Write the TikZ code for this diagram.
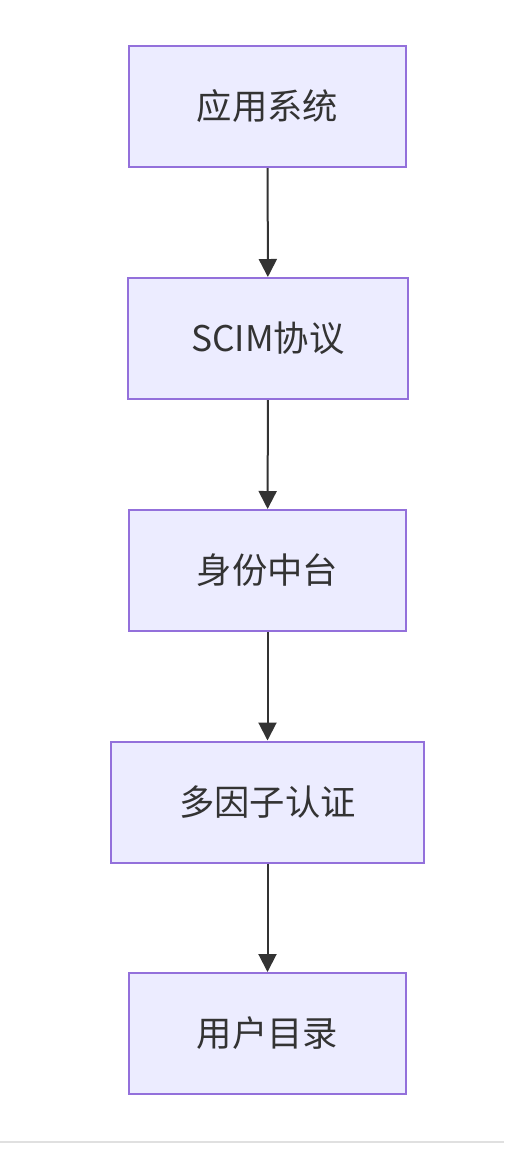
\documentclass[tikz,border=0pt]{standalone}
\usepackage{fontspec}
\setmainfont{Noto Sans CJK SC}
\usetikzlibrary{arrows.meta,positioning}
\definecolor{boxfill}{HTML}{ECECFF}
\definecolor{boxline}{HTML}{9370DB}
\definecolor{ink}{HTML}{333333}
\tikzset{>={Triangle[length=13.5pt,width=13.5pt]}}

\begin{document}
\begin{tikzpicture}[x=0.75pt,y=-0.75pt,
  block/.style={draw=boxline,fill=boxfill,line width=1.5pt,text=ink,
    minimum height=90.75pt,inner sep=0pt,font=\fontsize{26.5}{32}\selectfont},
  flow/.style={->,draw=ink,line width=1.5pt}]
\useasboundingbox (0,0) rectangle (504,1154);

% the boxes, top to bottom
\node[block,minimum width=207.75pt] (app) at (267.5,106.5) {应用系统};
\node[block,minimum width=210pt] (scim) at (268,338.5) {SCIM协议};
\node[block,minimum width=207.75pt] (idp) at (267.5,570.5) {身份中台};
\node[block,minimum width=234.75pt] (mfa) at (267.5,802) {多因子认证};
\node[block,minimum width=207.75pt] (dir) at (267.5,1033.5) {用户目录};

% connectors
\draw[flow] (app) -- (scim);
\draw[flow] (scim) -- (idp);
\draw[flow] (idp) -- (mfa);
\draw[flow] (mfa) -- (dir);

% rule at the bottom
\draw[draw={rgb,255:red,224;green,224;blue,224},line width=1.5pt] (0,1142) -- (504,1142);
\end{tikzpicture}
\end{document}
